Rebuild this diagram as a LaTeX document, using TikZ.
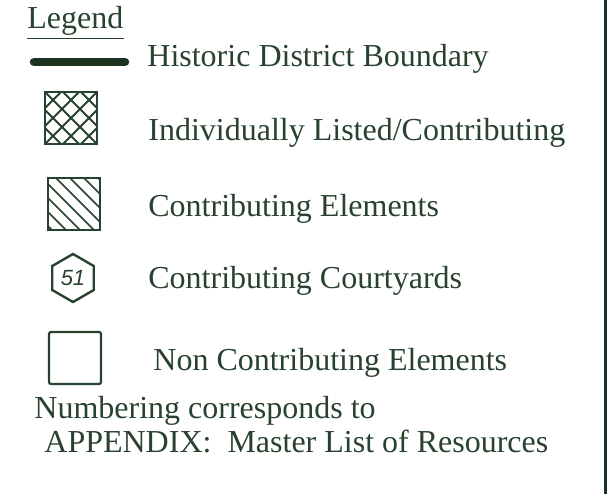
\documentclass[tikz,border=0pt]{standalone}
\usepackage{fontspec}
\setmainfont{Liberation Serif}
\newfontfamily\handfont{Liberation Sans}
\usepackage{tikz}
\usetikzlibrary{positioning, shapes.geometric}
\definecolor{ink}{RGB}{40,66,46}
\definecolor{inkdark}{RGB}{30,50,34}
\tikzset{
  txt/.style={anchor=base west, inner sep=0pt, text=ink, font=\fontsize{32}{36}\selectfont},
  swatch/.style={draw=ink, line width=2.2pt, minimum size=52pt, inner sep=0pt},
  xhatch/.style={swatch, path picture={
      \foreach \d in {-54,-36,...,54} {
        \draw[ink, line width=2pt] ([xshift=\d pt]path picture bounding box.south west) -- ++(60pt,60pt);
        \draw[ink, line width=2pt] ([xshift=\d pt]path picture bounding box.north west) -- ++(60pt,-60pt);
      }}},
  dhatch/.style={swatch, path picture={
      \foreach \d in {-48,-34,...,54} {
        \draw[ink, line width=1.6pt] ([xshift=\d pt]path picture bounding box.north west) -- ++(60pt,-60pt);
      }}},
}

\begin{document}
\begin{tikzpicture}[x=1pt, y=-1pt, thick]
        \useasboundingbox (0,0) rectangle (612,494);

        % Heading
        \node[txt] (legend) at (27,29) {Legend};
        \draw[ink, line width=1.6pt] ([yshift=-2pt]legend.south west) -- ([yshift=-2pt]legend.south east);

        % Symbols
        \coordinate (bL) at (34,62);
        \coordinate (bR) at (125,62);
        \node[xhatch] (listed) at (71,118) {};
        \node[dhatch] (contrib) at (74,204) {};
        \node[draw=ink, line width=2.4pt, regular polygon, regular polygon sides=6,
              shape border rotate=30, minimum size=48pt, inner sep=0pt,
              text=ink, font=\handfont\itshape\fontsize{22}{24}\selectfont] (court) at (73,278) {51};
        \node[swatch, rounded corners=2pt] (noncontrib) at (75,358) {};

        \draw[inkdark, line width=8.5pt, line cap=round] (bL) -- (bR);

        % Labels
        \node[txt] (boundaryL) at (147,67) {Historic District Boundary};
        \node[txt] (listedL) at (148,141) {Individually Listed/Contributing};
        \node[txt] (contribL) at (148,216) {Contributing Elements};
        \node[txt] (courtL) at (148,288) {Contributing Courtyards};
        \node[txt] (noncontribL) at (153,370) {Non Contributing Elements};

        % Note
        \node[txt] (note1) at (34,418) {Numbering corresponds to};
        \node[txt] (note2) at (44,452) {APPENDIX:\ \ Master List of Resources};

        % Frame edge
        \draw[inkdark, line width=3pt] (605,0) -- (605,494);
    \end{tikzpicture}
\end{document}
